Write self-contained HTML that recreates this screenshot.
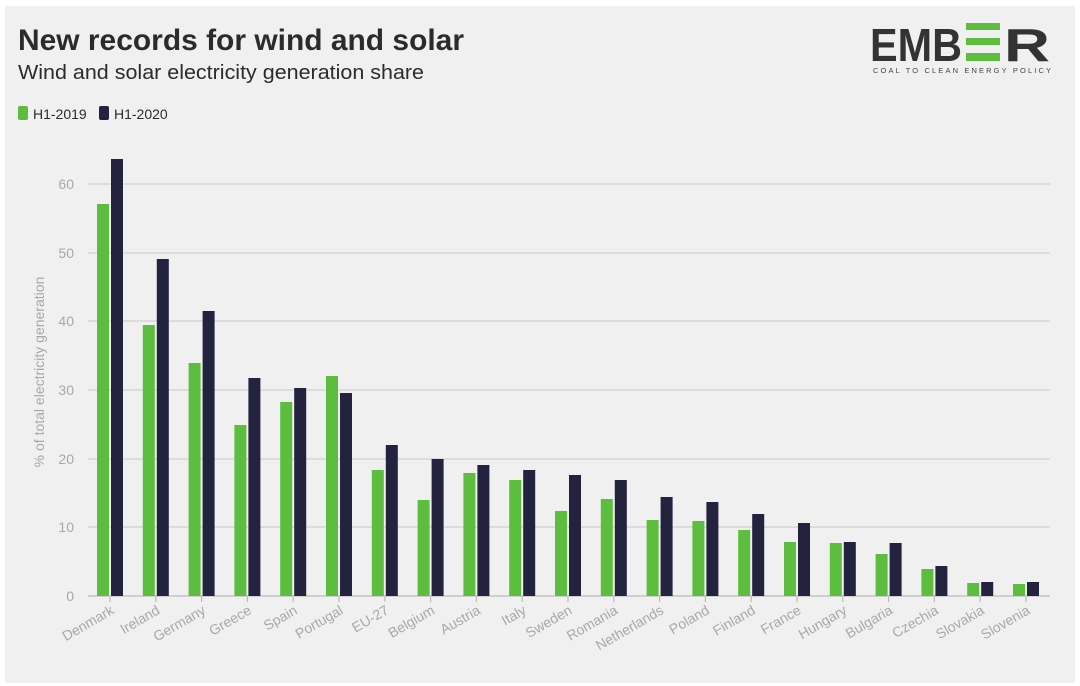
<!DOCTYPE html>
<html><head><meta charset="utf-8"><style>
body{margin:0;background:#fff;width:1080px;height:686px;overflow:hidden}
svg{display:block;font-family:"Liberation Sans",sans-serif}
</style></head><body>
<svg width="1080" height="686" viewBox="0 0 1080 686">
<rect x="5" y="6" width="1070" height="677" fill="#f0f0f0"/>
<text x="18" y="50" font-size="30" font-weight="bold" fill="#2b2b2b" textLength="446" lengthAdjust="spacingAndGlyphs">New records for wind and solar</text>
<text x="18" y="79" font-size="20" fill="#2b2b2b" textLength="406" lengthAdjust="spacingAndGlyphs">Wind and solar electricity generation share</text>
<rect x="18" y="106" width="10" height="14" rx="2" fill="#5cbd3e"/>
<text x="33" y="119" font-size="14" fill="#2b2b2b">H1-2019</text>
<rect x="99" y="106" width="10" height="14" rx="2" fill="#23223f"/>
<text x="114" y="119" font-size="14" fill="#2b2b2b">H1-2020</text>
<g font-weight="bold" font-size="46" fill="#333">
<text x="870" y="61" textLength="92" lengthAdjust="spacingAndGlyphs">EMB</text>
<text x="1004" y="61" textLength="46" lengthAdjust="spacingAndGlyphs">R</text>
</g>
<rect x="966" y="23" width="34" height="7" fill="#5cbd3e"/>
<rect x="966" y="38" width="34" height="7" fill="#5cbd3e"/>
<rect x="966" y="53" width="34" height="8" fill="#5cbd3e"/>
<text x="873" y="73" font-size="7.5" fill="#444" textLength="178" lengthAdjust="spacing">COAL TO CLEAN ENERGY POLICY</text>
<g stroke="#cfcfcf" stroke-width="1.3">
<line x1="88" y1="184" x2="1050" y2="184"/><line x1="88" y1="253" x2="1050" y2="253"/>
<line x1="88" y1="321" x2="1050" y2="321"/><line x1="88" y1="390" x2="1050" y2="390"/>
<line x1="88" y1="459" x2="1050" y2="459"/><line x1="88" y1="527" x2="1050" y2="527"/>
<line x1="88" y1="596" x2="1050" y2="596" stroke="#bbb"/>
</g>
<g stroke="#bbb" stroke-width="1.2">
<line x1="110" y1="596" x2="110" y2="602"/><line x1="155.8" y1="596" x2="155.8" y2="602"/><line x1="201.6" y1="596" x2="201.6" y2="602"/><line x1="247.4" y1="596" x2="247.4" y2="602"/><line x1="293.2" y1="596" x2="293.2" y2="602"/><line x1="339" y1="596" x2="339" y2="602"/><line x1="384.8" y1="596" x2="384.8" y2="602"/><line x1="430.6" y1="596" x2="430.6" y2="602"/><line x1="476.4" y1="596" x2="476.4" y2="602"/><line x1="522.2" y1="596" x2="522.2" y2="602"/><line x1="568" y1="596" x2="568" y2="602"/><line x1="613.8" y1="596" x2="613.8" y2="602"/><line x1="659.6" y1="596" x2="659.6" y2="602"/><line x1="705.4" y1="596" x2="705.4" y2="602"/><line x1="751.2" y1="596" x2="751.2" y2="602"/><line x1="797" y1="596" x2="797" y2="602"/><line x1="842.8" y1="596" x2="842.8" y2="602"/><line x1="888.6" y1="596" x2="888.6" y2="602"/><line x1="934.4" y1="596" x2="934.4" y2="602"/><line x1="980.2" y1="596" x2="980.2" y2="602"/><line x1="1026" y1="596" x2="1026" y2="602"/>
</g>
<g font-size="14" fill="#a8a8a8" text-anchor="end">
<text x="74" y="189">60</text><text x="74" y="258">50</text><text x="74" y="326">40</text>
<text x="74" y="395">30</text><text x="74" y="464">20</text><text x="74" y="532">10</text><text x="74" y="601">0</text>
</g>
<text transform="translate(44,372) rotate(-90)" text-anchor="middle" font-size="14" fill="#a8a8a8">% of total electricity generation</text>
<g fill="#5cbd3e">
<rect x="97" y="204" width="12" height="392"/>
<rect x="142.8" y="325" width="12" height="271"/>
<rect x="188.6" y="363" width="12" height="233"/>
<rect x="234.4" y="425" width="12" height="171"/>
<rect x="280.2" y="402" width="12" height="194"/>
<rect x="326" y="376" width="12" height="220"/>
<rect x="371.8" y="470" width="12" height="126"/>
<rect x="417.6" y="500" width="12" height="96"/>
<rect x="463.4" y="473" width="12" height="123"/>
<rect x="509.2" y="480" width="12" height="116"/>
<rect x="555" y="511" width="12" height="85"/>
<rect x="600.8" y="499" width="12" height="97"/>
<rect x="646.6" y="520" width="12" height="76"/>
<rect x="692.4" y="521" width="12" height="75"/>
<rect x="738.2" y="530" width="12" height="66"/>
<rect x="784" y="542" width="12" height="54"/>
<rect x="829.8" y="543" width="12" height="53"/>
<rect x="875.6" y="554" width="12" height="42"/>
<rect x="921.4" y="569" width="12" height="27"/>
<rect x="967.2" y="583" width="12" height="13"/>
<rect x="1013" y="584" width="12" height="12"/>
</g>
<g fill="#23223f">
<rect x="111" y="159" width="12" height="437"/>
<rect x="156.8" y="259" width="12" height="337"/>
<rect x="202.6" y="311" width="12" height="285"/>
<rect x="248.4" y="378" width="12" height="218"/>
<rect x="294.2" y="388" width="12" height="208"/>
<rect x="340" y="393" width="12" height="203"/>
<rect x="385.8" y="445" width="12" height="151"/>
<rect x="431.6" y="459" width="12" height="137"/>
<rect x="477.4" y="465" width="12" height="131"/>
<rect x="523.2" y="470" width="12" height="126"/>
<rect x="569" y="475" width="12" height="121"/>
<rect x="614.8" y="480" width="12" height="116"/>
<rect x="660.6" y="497" width="12" height="99"/>
<rect x="706.4" y="502" width="12" height="94"/>
<rect x="752.2" y="514" width="12" height="82"/>
<rect x="798" y="523" width="12" height="73"/>
<rect x="843.8" y="542" width="12" height="54"/>
<rect x="889.6" y="543" width="12" height="53"/>
<rect x="935.4" y="566" width="12" height="30"/>
<rect x="981.2" y="582" width="12" height="14"/>
<rect x="1027" y="582" width="12" height="14"/>
</g>
<g font-size="14" fill="#a8a8a8" text-anchor="end">
<text transform="translate(115,613) rotate(-30)">Denmark</text>
<text transform="translate(160.8,613) rotate(-30)">Ireland</text>
<text transform="translate(206.6,613) rotate(-30)">Germany</text>
<text transform="translate(252.4,613) rotate(-30)">Greece</text>
<text transform="translate(298.2,613) rotate(-30)">Spain</text>
<text transform="translate(344,613) rotate(-30)">Portugal</text>
<text transform="translate(389.8,613) rotate(-30)">EU-27</text>
<text transform="translate(435.6,613) rotate(-30)">Belgium</text>
<text transform="translate(481.4,613) rotate(-30)">Austria</text>
<text transform="translate(527.2,613) rotate(-30)">Italy</text>
<text transform="translate(573,613) rotate(-30)">Sweden</text>
<text transform="translate(618.8,613) rotate(-30)">Romania</text>
<text transform="translate(664.6,613) rotate(-30)">Netherlands</text>
<text transform="translate(710.4,613) rotate(-30)">Poland</text>
<text transform="translate(756.2,613) rotate(-30)">Finland</text>
<text transform="translate(802,613) rotate(-30)">France</text>
<text transform="translate(847.8,613) rotate(-30)">Hungary</text>
<text transform="translate(893.6,613) rotate(-30)">Bulgaria</text>
<text transform="translate(939.4,613) rotate(-30)">Czechia</text>
<text transform="translate(985.2,613) rotate(-30)">Slovakia</text>
<text transform="translate(1031,613) rotate(-30)">Slovenia</text>
</g>
</svg>
</body></html>
